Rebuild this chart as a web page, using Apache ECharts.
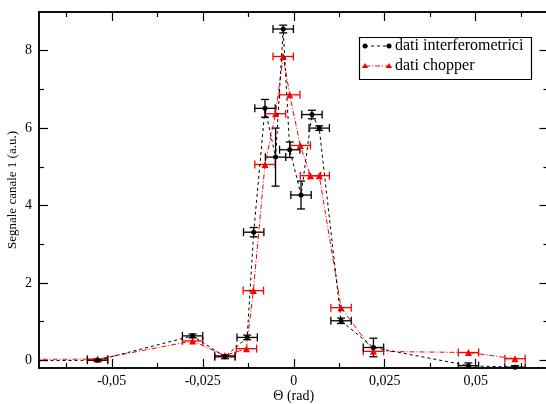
<!DOCTYPE html>
<html>
<head>
<meta charset="utf-8">
<script src="https://cdn.jsdelivr.net/npm/echarts@6/dist/echarts.min.js"></script>
<style>
  html, body { margin: 0; padding: 0; background: #fff; }
  #main { width: 546px; height: 404px; }
</style>
</head>
<body>
<div id="main"></div>
<script>
// tick positions
var xMajor = [-0.05, -0.025, 0, 0.025, 0.05];
var xMinor = [-0.0625, -0.0375, -0.0125, 0.0125, 0.0375, 0.0625];
var yMajor = [0, 2, 4, 6, 8];
var yMinor = [1, 3, 5, 7];

// dati interferometrici (theta, segnale, errore y)
var thetaB = [-0.08, -0.0539, -0.0278, -0.0189, -0.0128, -0.011, -0.0079, -0.005, -0.0029, -0.0011, 0.002, 0.005, 0.007, 0.013, 0.0219, 0.048, 0.0608];
var sigB   = [-0.02, 0.0, 0.63, 0.09, 0.59, 3.31, 6.51, 5.25, 8.56, 5.44, 4.27, 6.35, 6.0, 1.02, 0.33, -0.14, -0.18];
var errB   = [0.03, 0.03, 0.05, 0.05, 0.06, 0.12, 0.23, 0.75, 0.1, 0.2, 0.36, 0.11, 0.06, 0.07, 0.24, 0.07, 0.04];

// dati chopper
var thetaR = [-0.08, -0.0539, -0.0278, -0.0189, -0.013, -0.0111, -0.0079, -0.005, -0.0029, -0.0011, 0.0018, 0.0046, 0.007, 0.013, 0.0219, 0.048, 0.0608];
var sigR   = [0.02, 0.03, 0.50, 0.12, 0.30, 1.80, 5.06, 6.37, 7.85, 6.86, 5.55, 4.77, 4.77, 1.36, 0.23, 0.20, 0.04];
var errR   = [0, 0, 0, 0, 0, 0, 0, 0, 0, 0, 0, 0, 0, 0, 0, 0, 0];

var xErr = 0.0028;
var FONT = 'Liberation Serif';

function pairs(xs, ys) {
    return xs.map(function (x, i) { return [x, ys[i]]; });
}
function errData(xs, ys, es) {
    return xs.map(function (x, i) { return [x, ys[i], xErr, es[i]]; });
}

function errorBars(color) {
    return function (params, api) {
        var x = api.value(0), y = api.value(1), dx = api.value(2), dy = api.value(3);
        var c = api.coord([x, y]);
        var l = api.coord([x - dx, y]), r = api.coord([x + dx, y]);
        var cap = 4;
        var st = { stroke: color, lineWidth: 1.3 };
        var kids = [
            { type: 'line', shape: { x1: l[0], y1: c[1], x2: r[0], y2: c[1] }, style: st },
            { type: 'line', shape: { x1: l[0], y1: c[1] - cap, x2: l[0], y2: c[1] + cap }, style: st },
            { type: 'line', shape: { x1: r[0], y1: c[1] - cap, x2: r[0], y2: c[1] + cap }, style: st }
        ];
        if (dy > 0) {
            var t = api.coord([x, y + dy]), b = api.coord([x, y - dy]);
            kids.push(
                { type: 'line', shape: { x1: c[0], y1: t[1], x2: c[0], y2: b[1] }, style: st },
                { type: 'line', shape: { x1: c[0] - cap, y1: t[1], x2: c[0] + cap, y2: t[1] }, style: st },
                { type: 'line', shape: { x1: c[0] - cap, y1: b[1], x2: c[0] + cap, y2: b[1] }, style: st }
            );
        }
        return { type: 'group', children: kids };
    };
}

function xAx(pos, ticks, len, labels) {
    return {
        type: 'value', min: -0.07, max: 0.07, position: pos, offset: 0,
        name: labels ? 'Θ (rad)' : '', nameLocation: 'middle', nameGap: 21, nameMoveOverlap: false,
        nameTextStyle: { fontFamily: FONT, fontSize: 14, color: '#000' },
        axisLine: { show: true, onZero: false, lineStyle: { color: '#000', width: 1.5 } },
        axisTick: { show: true, inside: true, length: len, customValues: ticks, lineStyle: { color: '#000', width: 1.2 } },
        axisLabel: { show: labels, customValues: ticks, margin: 6, fontFamily: FONT, fontSize: 14, color: '#000',
            formatter: function (v) { return String(v).replace('.', ','); } },
        splitLine: { show: false }
    };
}
function yAx(pos, ticks, len, labels) {
    return {
        type: 'value', min: -0.2, max: 9, position: pos, offset: 0,
        name: labels ? 'Segnale canale 1 (a.u.)' : '', nameLocation: 'middle', nameGap: 20, nameMoveOverlap: false,
        nameTextStyle: { fontFamily: FONT, fontSize: 13, color: '#000' },
        axisLine: { show: true, onZero: false, lineStyle: { color: '#000', width: 1.5 } },
        axisTick: { show: true, inside: true, length: len, customValues: ticks, lineStyle: { color: '#000', width: 1.2 } },
        axisLabel: { show: labels, customValues: ticks, margin: 7, fontFamily: FONT, fontSize: 14, color: '#000' },
        splitLine: { show: false }
    };
}

var myChart = echarts.init(document.getElementById('main'));
var option = {
    backgroundColor: '#fff',
    animation: false,
    grid: { left: 39, right: -2.5, top: 12, bottom: 36, containLabel: false, outerBoundsMode: 'none' },
    xAxis: [
        xAx('bottom', xMajor, 9, true),
        xAx('bottom', xMinor, 5, false),
        xAx('top', xMajor, 9, false),
        xAx('top', xMinor, 5, false)
    ],
    yAxis: [
        yAx('left', yMajor, 9, true),
        yAx('left', yMinor, 5, false),
        yAx('right', yMajor, 9, false),
        yAx('right', yMinor, 5, false)
    ],
    graphic: [
        { type: 'rect', z: 100, shape: { x: 359.5, y: 37.5, width: 172, height: 42 },
          style: { fill: '#fff', stroke: '#000', lineWidth: 1.2 } },
        { type: 'line', z: 101, shape: { x1: 365, y1: 46, x2: 389, y2: 46 },
          style: { stroke: '#000', lineWidth: 1, lineDash: [3, 3] } },
        { type: 'circle', z: 102, shape: { cx: 365, cy: 46, r: 2.5 }, style: { fill: '#000' } },
        { type: 'circle', z: 102, shape: { cx: 389, cy: 46, r: 2.5 }, style: { fill: '#000' } },
        { type: 'text', z: 102, x: 395, y: 46,
          style: { text: 'dati interferometrici', fontFamily: FONT, fontSize: 16, fill: '#000', verticalAlign: 'middle' } },
        { type: 'line', z: 101, shape: { x1: 365, y1: 66, x2: 389, y2: 66 },
          style: { stroke: '#ff0000', lineWidth: 1, lineDash: [5, 2, 1, 2] } },
        { type: 'polygon', z: 102, shape: { points: [[365, 63], [361.8, 68], [368.2, 68]] }, style: { fill: '#ff0000' } },
        { type: 'polygon', z: 102, shape: { points: [[389, 63], [385.8, 68], [392.2, 68]] }, style: { fill: '#ff0000' } },
        { type: 'text', z: 102, x: 395, y: 66,
          style: { text: 'dati chopper', fontFamily: FONT, fontSize: 16, fill: '#000', verticalAlign: 'middle' } }
    ],
    series: [
        {
            name: 'err chopper', type: 'custom', clip: true, z: 2,
            renderItem: errorBars('#ff0000'),
            data: errData(thetaR, sigR, errR)
        },
        {
            name: 'err interferometrici', type: 'custom', clip: true, z: 3,
            renderItem: errorBars('#000000'),
            data: errData(thetaB, sigB, errB)
        },
        {
            name: 'dati chopper', type: 'line', clip: true, z: 4,
            data: pairs(thetaR, sigR),
            symbol: 'triangle', symbolSize: 7,
            itemStyle: { color: '#ff0000' },
            lineStyle: { color: '#ff0000', width: 1, type: [5, 2, 1, 2] }
        },
        {
            name: 'dati interferometrici', type: 'line', clip: true, z: 5,
            data: pairs(thetaB, sigB),
            symbol: 'circle', symbolSize: 5,
            itemStyle: { color: '#000' },
            lineStyle: { color: '#000', width: 1, type: [3, 3] }
        }
    ]
};
myChart.setOption(option);
</script>
</body>
</html>
